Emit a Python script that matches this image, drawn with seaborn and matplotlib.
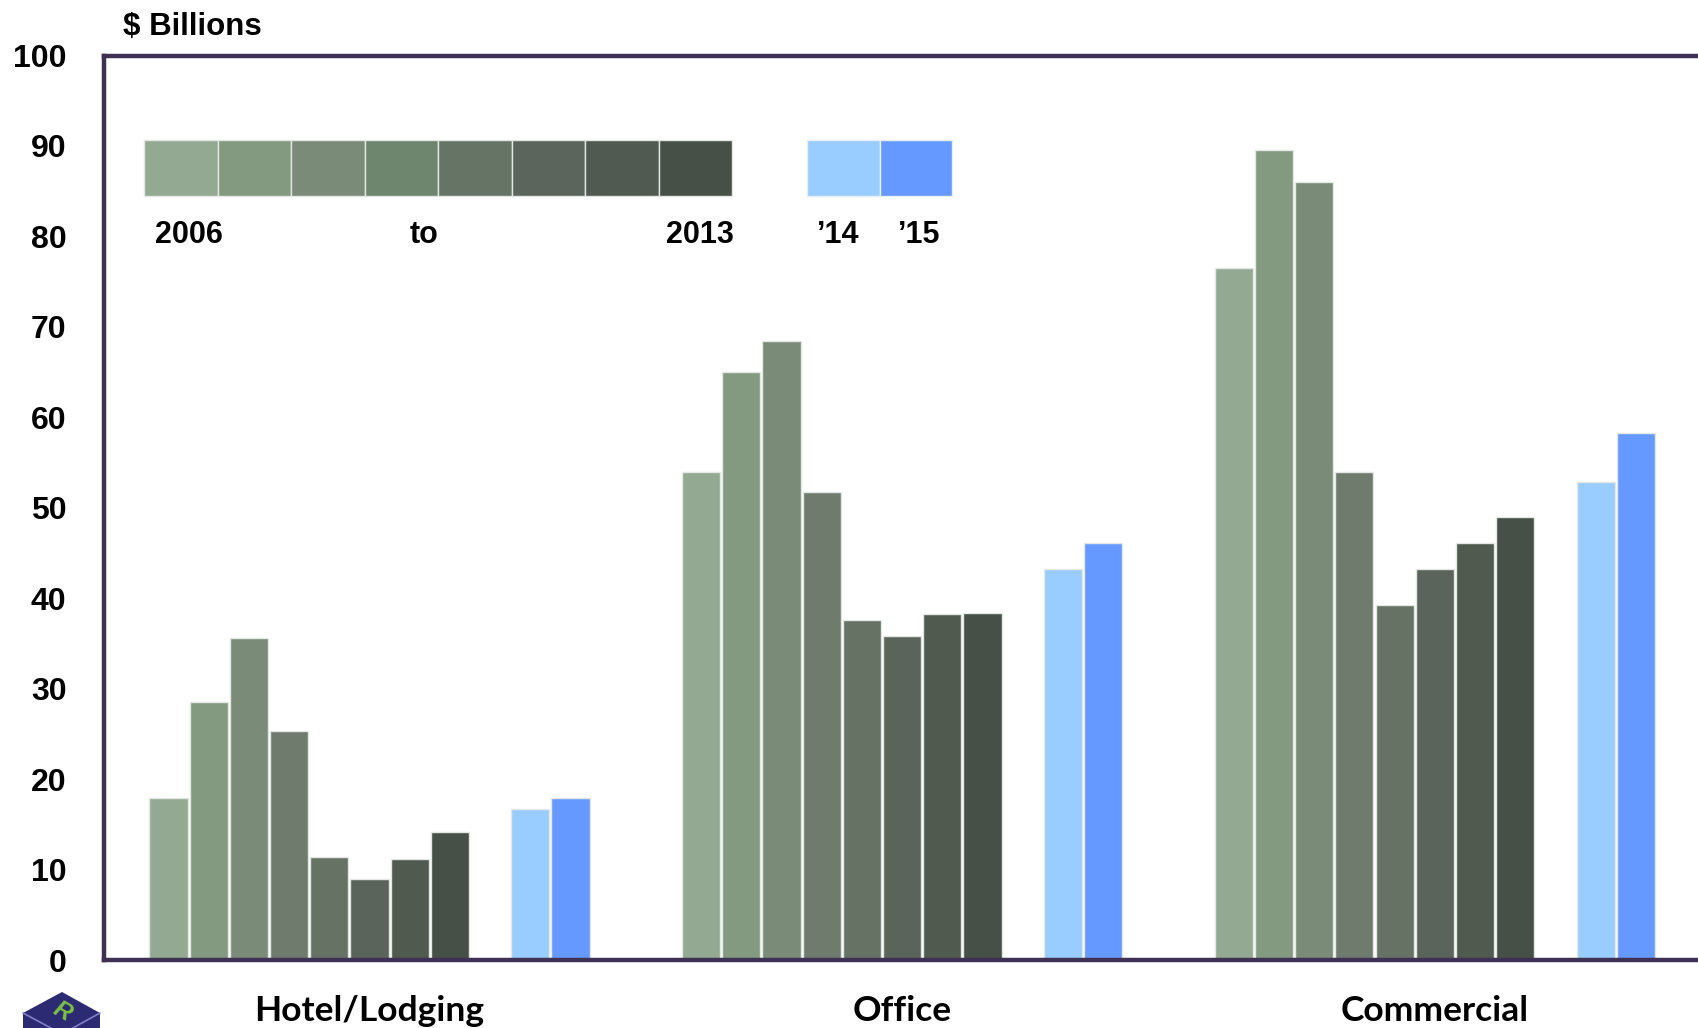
import pandas as pd
import seaborn as sns
import matplotlib.pyplot as plt
from matplotlib.patches import Rectangle, Polygon

# data
sectors    = ["Hotel/Lodging", "Office", "Commercial"]
years      = ["2006", "2007", "2008", "2009", "2010", "2011", "2012", "2013", "'14", "'15"]
hotel      = [17.9, 28.5, 35.6, 25.3, 11.4, 8.9, 11.2, 14.1, 16.7, 17.9]
office     = [54.0, 65.0, 68.4, 51.7, 37.6, 35.8, 38.2, 38.4, 43.2, 46.1]
commercial = [76.5, 89.5, 86.0, 53.9, 39.3, 43.2, 46.1, 49.0, 52.8, 58.3]
yticks     = list(range(0, 101, 10))

bar_colors    = ["#93a991", "#839a81", "#7a8b77", "#6f7c6d", "#657264",
                 "#5b645a", "#505a4f", "#475047", "#99ccff", "#6699ff"]
legend_colors = ["#93a991", "#839a80", "#7a8b77", "#6d866d", "#667466",
                 "#5b655b", "#505a50", "#475047", "#99ccff", "#6699ff"]
spine_col = "#3f3154"

W, H = 1699, 1028
GROUP_STEP = 13.25


def fx(x):
    return x / W


def fy(y):
    return 1 - y / H


rows = []
for gi, (sector, vals) in enumerate(zip(sectors, [hotel, office, commercial])):
    for i, (yr, v) in enumerate(zip(years, vals)):
        slot = i if i < 8 else i + 1  # one empty slot before '14
        rows.append({"sector": sector, "year": yr, "value": v,
                     "pos": gi * GROUP_STEP + slot})
df = pd.DataFrame(rows)

sns.set_style("white")
plt.rcParams["font.family"] = ["Liberation Sans", "DejaVu Sans"]
plt.rcParams["text.color"] = "black"
plt.rcParams["xtick.color"] = "black"
plt.rcParams["ytick.color"] = "black"

fig = plt.figure(figsize=(W / 100, H / 100), dpi=100)
ax = fig.add_axes([fx(104), fy(960), 1 - fx(104), (960 - 55.5) / H])

sns.barplot(data=df, x="pos", y="value", hue="year", hue_order=years,
            palette=dict(zip(years, bar_colors)), native_scale=True,
            dodge=False, width=0.95, saturation=1, errorbar=None,
            edgecolor="#e4e8e4", linewidth=1, legend=False, ax=ax)

px_per_unit = 40.2
ax.set_xlim(-(168.5 - 104) / px_per_unit, (W - 168.5) / px_per_unit)
ax.set_ylim(0, 100)
ax.set_yticks(yticks)
ax.set_yticklabels([str(t) for t in yticks], fontsize=23, fontweight="bold",
                   color="black")
ax.tick_params(axis="y", length=0, pad=27)
ax.set_xticks([gi * GROUP_STEP + 5 for gi in range(len(sectors))])
ax.set_xticklabels(sectors, fontsize=25.5, fontweight="bold", color="black",
                   family=["Lato", "DejaVu Sans"])
ax.tick_params(axis="x", length=0, pad=25)
ax.set_xlabel("")
ax.set_ylabel("")

for side in ["top", "left", "bottom"]:
    ax.spines[side].set_visible(True)
    ax.spines[side].set_color(spine_col)
    ax.spines[side].set_linewidth(3.2)
ax.spines["right"].set_visible(False)

fig.text(fx(123), fy(35), "$ Billions", fontsize=22.5, fontweight="bold",
         va="baseline", ha="left")

# colour-key strip
top, bot = 139.8, 196.1
bw = (732.5 - 144.1) / 8
for i in range(8):
    fig.add_artist(Rectangle((fx(144.1 + i * bw), fy(bot)), bw / W, (bot - top) / H,
                             transform=fig.transFigure, facecolor=legend_colors[i],
                             edgecolor="#e4e8e4", linewidth=1))
bw2 = (952.4 - 807.2) / 2
for i in range(2):
    fig.add_artist(Rectangle((fx(807.2 + i * bw2), fy(bot)), bw2 / W, (bot - top) / H,
                             transform=fig.transFigure, facecolor=legend_colors[8 + i],
                             edgecolor="#e8eef8", linewidth=1))

key_font = dict(fontsize=22, fontweight="bold", va="baseline", color="black")
fig.text(fx(155), fy(243), "2006", ha="left", **key_font)
fig.text(fx(423.7), fy(243), "to", ha="center", **key_font)
fig.text(fx(733.5), fy(243), "2013", ha="right", **key_font)
fig.text(fx(838), fy(243), "\u201914", ha="center", **key_font)
fig.text(fx(919), fy(243), "\u201915", ha="center", **key_font)

# small logo cube in the corner
cube = [(62, 992), (100, 1013), (100, 1045), (62, 1066), (23, 1045), (23, 1013)]
fig.add_artist(Polygon([(fx(x), fy(y)) for x, y in cube], closed=True,
                       transform=fig.transFigure, facecolor="#2c2a72",
                       edgecolor="none"))
for a, b in [((23, 1013), (62, 1034)), ((100, 1013), (62, 1034))]:
    fig.add_artist(plt.Line2D([fx(a[0]), fx(b[0])], [fy(a[1]), fy(b[1])],
                              transform=fig.transFigure, color="#8080c8", lw=1.2))
fig.text(fx(62), fy(1012), "R", fontsize=17, fontstyle="italic", fontweight="bold",
         color="#7dc242", ha="center", va="center", rotation=-30)

fig.savefig("out.png", dpi=100, facecolor="white")
